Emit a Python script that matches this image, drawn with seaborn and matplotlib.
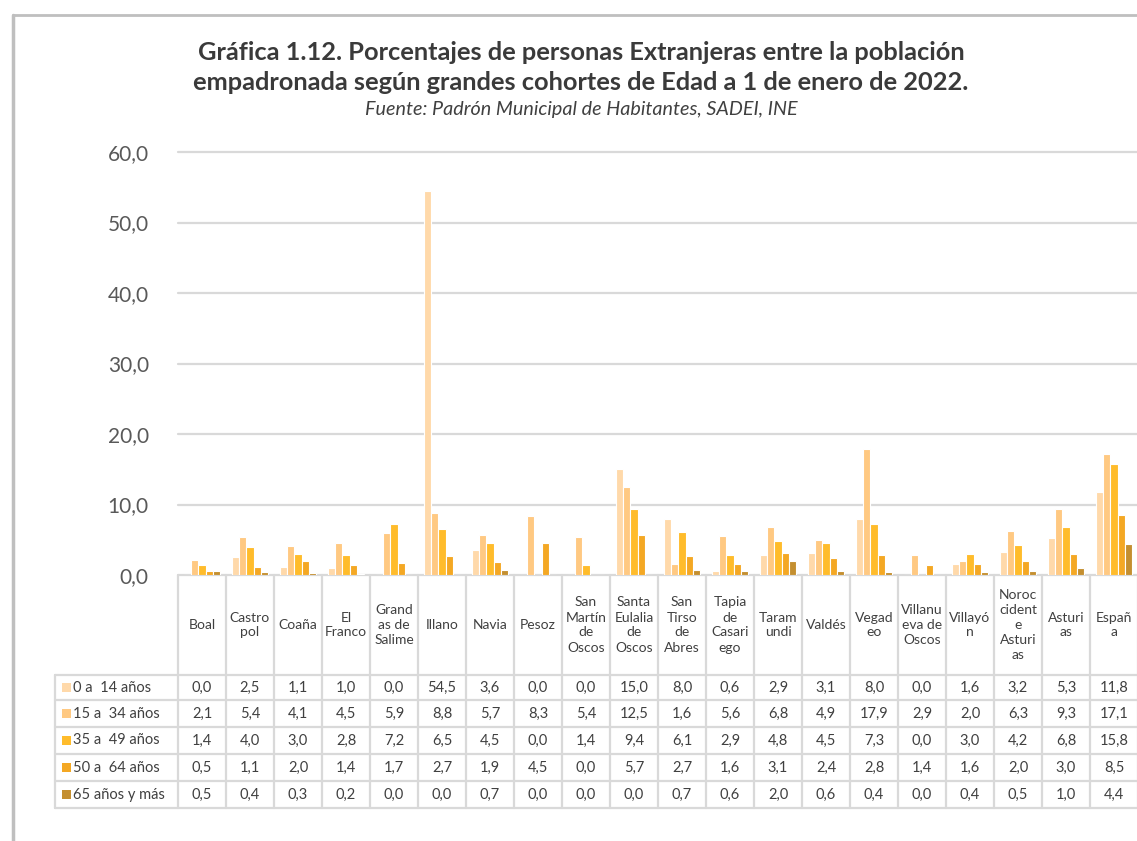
import matplotlib
matplotlib.use("Agg")
import matplotlib.pyplot as plt
import seaborn as sns
import pandas as pd
from matplotlib.lines import Line2D
from matplotlib.patches import Rectangle
from matplotlib.transforms import blended_transform_factory

# ---------------- data ----------------
categories = ["Boal", "Castropol", "Coaña", "El Franco", "Grandas de Salime", "Illano",
              "Navia", "Pesoz", "San Martín de Oscos", "Santa Eulalia de Oscos",
              "San Tirso de Abres", "Tapia de Casariego", "Taramundi", "Valdés",
              "Vegadeo", "Villanueva de Oscos", "Villayón", "Noroccidente Asturias",
              "Asturias", "España"]
header_labels = ["Boal", "Castro\npol", "Coaña", "El\nFranco", "Grand\nas de\nSalime",
                 "Illano", "Navia", "Pesoz", "San\nMartín\nde\nOscos", "Santa\nEulalia\nde\nOscos",
                 "San\nTirso\nde\nAbres", "Tapia\nde\nCasari\nego", "Taram\nundi", "Valdés",
                 "Vegad\neo", "Villanu\neva de\nOscos", "Villayó\nn", "Noroc\ncident\ne\nAsturi\nas",
                 "Asturi\nas", "Españ\na"]
cohorts = ["0 a  14 años", "15 a  34 años", "35 a  49 años", "50 a  64 años", "65 años y más"]
age_0_14 = [0.0, 2.5, 1.1, 1.0, 0.0, 54.5, 3.6, 0.0, 0.0, 15.0, 8.0, 0.6, 2.9, 3.1, 8.0, 0.0, 1.6, 3.2, 5.3, 11.8]
age_15_34 = [2.1, 5.4, 4.1, 4.5, 5.9, 8.8, 5.7, 8.3, 5.4, 12.5, 1.6, 5.6, 6.8, 4.9, 17.9, 2.9, 2.0, 6.3, 9.3, 17.1]
age_35_49 = [1.4, 4.0, 3.0, 2.8, 7.2, 6.5, 4.5, 0.0, 1.4, 9.4, 6.1, 2.9, 4.8, 4.5, 7.3, 0.0, 3.0, 4.2, 6.8, 15.8]
age_50_64 = [0.5, 1.1, 2.0, 1.4, 1.7, 2.7, 1.9, 4.5, 0.0, 5.7, 2.7, 1.6, 3.1, 2.4, 2.8, 1.4, 1.6, 2.0, 3.0, 8.5]
age_65 = [0.5, 0.4, 0.3, 0.2, 0.0, 0.0, 0.7, 0.0, 0.0, 0.0, 0.7, 0.6, 2.0, 0.6, 0.4, 0.0, 0.4, 0.5, 1.0, 4.4]
series = [age_0_14, age_15_34, age_35_49, age_50_64, age_65]
colors = ["#FFD9AA", "#FFC982", "#FFBC2B", "#F4A824", "#C48F30"]

rows = []
for coh, vals in zip(cohorts, series):
    for cat, v in zip(categories, vals):
        rows.append({"cat": cat, "cohort": coh, "val": v})
df = pd.DataFrame(rows)

# ---------------- figure ----------------
sns.set_style("white")
plt.rcParams["font.family"] = ["Lato", "DejaVu Sans"]
W, H = 1137, 841
fig = plt.figure(figsize=(W / 100, H / 100), dpi=100)
fig.patch.set_facecolor("white")

def fx(px):
    return px / W

def fy(py):
    return 1 - py / H

x0, x1, ytop, ybot = 178, 1138, 152, 575
ax = fig.add_axes([fx(x0), fy(ybot), fx(x1) - fx(x0), fy(ytop) - fy(ybot)])
sns.barplot(data=df, x="cat", y="val", hue="cohort", palette=colors, hue_order=cohorts,
            order=categories, width=0.76, edgecolor="white", linewidth=0.8,
            saturation=1, ax=ax, legend=False, zorder=3)
ax.set_xlim(-0.5, len(categories) - 0.5)
ax.set_ylim(0, 60)
ax.set_xlabel("")
ax.set_ylabel("")
ax.set_xticks([])
yt = [0, 10, 20, 30, 40, 50, 60]
ax.set_yticks(yt)
ax.set_yticklabels([f"{v:.1f}".replace(".", ",") for v in yt], fontsize=15, color="#595959")
ax.tick_params(axis="y", length=0, pad=21)
for s in ax.spines.values():
    s.set_visible(False)
for v in yt:
    ax.axhline(v, color="#D9D9D9", lw=1.6, zorder=1, clip_on=False)

# ---------------- data table ----------------
tr = blended_transform_factory(ax.transData, fig.transFigure)
gc = "#D9D9D9"
row_edges = [675, 700, 727, 754, 781, 808]
for i in range(len(categories) + 1):
    fig.add_artist(Line2D([i - 0.5, i - 0.5], [fy(575), fy(808)], transform=tr,
                          color=gc, lw=1.6))
fig.add_artist(Line2D([fx(55), fx(55)], [fy(675), fy(808)], color=gc, lw=1.6))
for ry in row_edges:
    fig.add_artist(Line2D([fx(55), fx(1137)], [fy(ry), fy(ry)], color=gc, lw=1.6))

tc = "#404040"
for i, lab in enumerate(header_labels):
    fig.text(i, fy(625), lab, transform=tr, ha="center", va="center", fontsize=10,
             color=tc, linespacing=1.3)

for r, (coh, vals, col) in enumerate(zip(cohorts, series, colors)):
    yc = (row_edges[r] + row_edges[r + 1]) / 2
    fig.add_artist(Rectangle((fx(62), fy(yc + 4.5)), fx(9) - fx(0), fy(0) - fy(9),
                             transform=fig.transFigure, facecolor=col, edgecolor="none"))
    fig.text(fx(73), fy(yc), coh, ha="left", va="center", fontsize=10.5, color=tc)
    for i, v in enumerate(vals):
        fig.text(i, fy(yc), f"{v:.1f}".replace(".", ","), transform=tr, ha="center",
                 va="center", fontsize=10.5, color=tc)

# ---------------- titles ----------------
fig.text(fx(581), fy(52), "Gráfica 1.12. Porcentajes de personas Extranjeras entre la población",
         ha="center", va="center", fontsize=18.3, fontweight="bold", color="#3A3A3A")
fig.text(fx(581), fy(82), "empadronada según grandes cohortes de Edad a 1 de enero de 2022.",
         ha="center", va="center", fontsize=18.3, fontweight="bold", color="#3A3A3A")
fig.text(fx(581), fy(109), "Fuente: Padrón Municipal de Habitantes, SADEI, INE",
         ha="center", va="center", fontsize=14.2, style="italic", color="#404040")

# chart frame (screenshot border)
fig.add_artist(Line2D([fx(13), fx(1137)], [fy(15), fy(15)], color="#BFBFBF", lw=2))
fig.add_artist(Line2D([fx(13), fx(13)], [fy(15), fy(841)], color="#BFBFBF", lw=2.5))

fig.savefig("out.png", dpi=100, facecolor="white")
